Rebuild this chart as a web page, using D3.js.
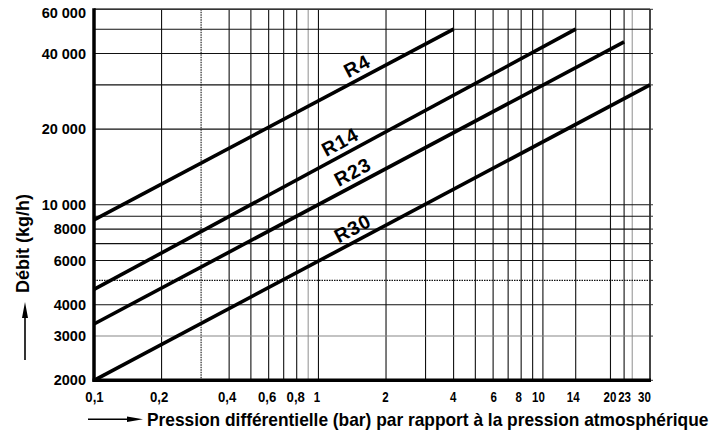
<!DOCTYPE html>
<html><head><meta charset="utf-8">
<script src="https://cdn.jsdelivr.net/npm/d3@7"></script>
<style>
html,body{margin:0;padding:0;background:#fff;}
svg{display:block;font-family:"Liberation Sans",Arial,sans-serif;font-weight:bold;}
</style></head>
<body>
<svg id="chart" width="716" height="434"></svg>
<script>
// ---- data ----
const seriesNames = ["R4", "R14", "R23", "R30"];
const seriesX = [[0.1, 4], [0.1, 14], [0.1, 23], [0.1, 30]];
const seriesY = [[8700, 50000], [4600, 50000], [3350, 44500], [2000, 30000]];
const labelAtX = [1.58, 1.33, 1.51, 1.51];

const xGridValues = [0.1,0.2,0.3,0.4,0.5,0.6,0.7,0.8,0.9,1,2,3,4,5,6,7,8,9,10,14,20,23,25,30];
const xTickValues = [0.1,0.2,0.4,0.6,0.8,1,2,4,6,8,10,14,20,23,30];
const xTickLabels = ["0,1","0,2","0,4","0,6","0,8","1","2","4","6","8","10","14","20","23","30"];
const yGridValues = [2000,3000,4000,5000,6000,7000,8000,9000,10000,20000,30000,40000,50000,60000];
const yTickValues = [2000,3000,4000,6000,8000,10000,20000,40000,60000];
const yTickLabels = ["2000","3000","4000","6000","8000","10 000","20 000","40 000","60 000"];

const yTitle = "Débit (kg/h)";
const xTitle = "Pression différentielle (bar) par rapport à la pression atmosphérique";

// ---- layout ----
const L = 94, R = 650, T = 9.3, B = 380.3;
const xLabelShift = [0,-3,-2.5,-2,-1.5,-2,-1,-1,0,-3,-5,-3,-1,0,-6];
const svg = d3.select("#chart");
const x = d3.scaleLog().domain([0.1, 30]).range([L, R]);
const y = d3.scaleLog().domain([2000, 60000]).range([B, T]);

// grid lines
const g = svg.append("g");
g.selectAll("line.vx").data(xGridValues).join("line")
  .attr("x1", d => x(d)).attr("x2", d => x(d)).attr("y1", T).attr("y2", B)
  .attr("stroke", d => (d === 0.9 || d === 25) ? "#999" : "#111")
  .attr("stroke-width", 1.1)
  .attr("stroke-dasharray", d => d === 0.3 ? "1.5,1" : null);
g.selectAll("line.hy").data(yGridValues).join("line")
  .attr("x1", L).attr("x2", R).attr("y1", d => y(d)).attr("y2", d => y(d))
  .attr("stroke", d => d === 3000 ? "#888" : "#111")
  .attr("stroke-width", 1.1)
  .attr("stroke-dasharray", d => d === 5000 ? "1.5,1" : null);
// small outward ticks on right border
g.selectAll("line.rt").data(yGridValues).join("line")
  .attr("x1", R).attr("x2", R + 3).attr("y1", d => y(d)).attr("y2", d => y(d))
  .attr("stroke", "#333").attr("stroke-width", 1);

// borders
svg.append("line").attr("x1", L).attr("x2", R).attr("y1", T).attr("y2", T).attr("stroke", "#333").attr("stroke-width", 1.5);
svg.append("line").attr("x1", R).attr("x2", R).attr("y1", T).attr("y2", B).attr("stroke", "#333").attr("stroke-width", 1.5);
svg.append("line").attr("x1", L - 1.5).attr("x2", R + 1).attr("y1", B).attr("y2", B).attr("stroke", "#000").attr("stroke-width", 3.5);
svg.append("line").attr("x1", L).attr("x2", L).attr("y1", T - 1).attr("y2", B + 1.5).attr("stroke", "#000").attr("stroke-width", 3.5);

// axes labels via d3 axes
const xAxis = d3.axisBottom(x).tickValues(xTickValues)
  .tickFormat((d, i) => xTickLabels[i]).tickSize(0).tickPadding(11);
const xa = svg.append("g").attr("transform", `translate(0,${B})`).call(xAxis);
xa.select(".domain").remove();
xa.selectAll("text").attr("font-size", 14.5).attr("font-weight", "bold")
  .attr("font-family", '"Liberation Sans",Arial,sans-serif').attr("fill", "#000")
  .attr("dx", (d, i) => xLabelShift[i])
  .attr("textLength", (d, i) => {
    const s = xTickLabels[i];
    return s.replace(/,/g, "").length * 6.4 + (s.includes(",") ? 5.5 : 0);
  })
  .attr("lengthAdjust", "spacingAndGlyphs");

const yAxis = d3.axisLeft(y).tickValues(yTickValues)
  .tickFormat((d, i) => yTickLabels[i]).tickSize(0).tickPadding(8);
const ya = svg.append("g").attr("transform", `translate(${L},0)`).call(yAxis);
ya.select(".domain").remove();
ya.selectAll("text").attr("font-size", 14.5).attr("font-weight", "bold")
  .attr("font-family", '"Liberation Sans",Arial,sans-serif').attr("fill", "#000")
  .attr("dy", d => d === 60000 ? "0.55em" : "0.32em");

// series lines
const line = d3.line().x(d => x(d[0])).y(d => y(d[1]));
seriesNames.forEach((name, i) => {
  const pts = seriesX[i].map((xv, j) => [xv, seriesY[i][j]]);
  svg.append("path").attr("d", line(pts)).attr("fill", "none")
    .attr("stroke", "#000").attr("stroke-width", 3.6).attr("stroke-linecap", "butt");
  // label along line
  const x0 = x(pts[0][0]), y0 = y(pts[0][1]), x1 = x(pts[1][0]), y1 = y(pts[1][1]);
  const ang = Math.atan2(y1 - y0, x1 - x0) * 180 / Math.PI;
  const lx = x(labelAtX[i]);
  const t = (lx - x0) / (x1 - x0);
  const ly = y0 + t * (y1 - y0);
  svg.append("text").attr("transform", `translate(${lx},${ly}) rotate(${ang})`)
    .attr("y", -6).attr("text-anchor", "middle").attr("font-size", 19.5)
    .attr("letter-spacing", 1)
    .attr("fill", "#000").text(name);
});

// y title + arrow
svg.append("text").attr("transform", "translate(28.5,243.5) rotate(-90)")
  .attr("text-anchor", "middle").attr("font-size", 18).attr("fill", "#000").text(yTitle);
svg.append("line").attr("x1", 25).attr("x2", 25).attr("y1", 360).attr("y2", 312)
  .attr("stroke", "#000").attr("stroke-width", 1.6);
svg.append("path").attr("d", "M25,302 L28,318 L22,318 Z").attr("fill", "#000");

// x title + arrow
svg.append("line").attr("x1", 88).attr("x2", 130).attr("y1", 419.3).attr("y2", 419.3)
  .attr("stroke", "#000").attr("stroke-width", 1.6);
svg.append("path").attr("d", "M143,419.3 L127,416.5 L127,422.1 Z").attr("fill", "#000");
const xt = svg.append("text").attr("x", 0).attr("y", 0).attr("font-size", 18)
  .attr("fill", "#000").text(xTitle);
const natW = xt.node().getComputedTextLength();
const targetW = 562;
xt.attr("transform", `translate(147,426) scale(${targetW / natW},1)`);
</script>
</body></html>
